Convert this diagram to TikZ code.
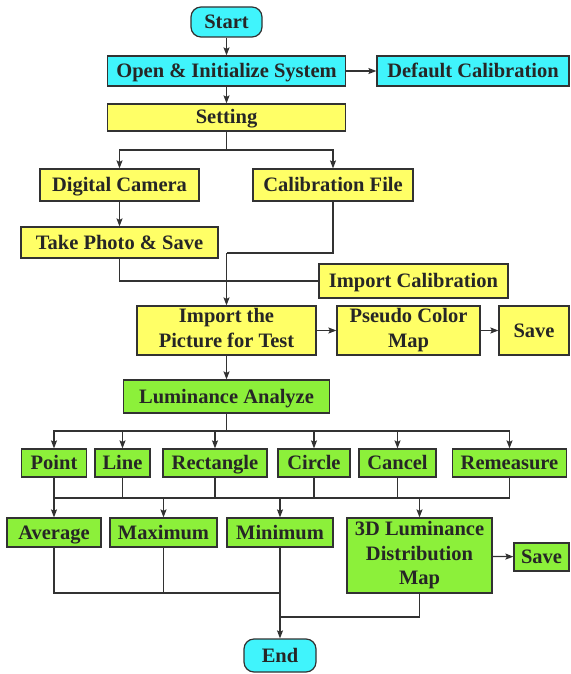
\documentclass[tikz,border=0pt]{standalone}
\usepackage{fontspec}
\setmainfont{Liberation Serif}
\usetikzlibrary{arrows.meta}
\definecolor{cyanfill}{RGB}{64,244,252}
\definecolor{yelfill}{RGB}{255,255,102}
\definecolor{grnfill}{RGB}{140,240,58}
\definecolor{edgecol}{RGB}{50,50,50}
\definecolor{txtcol}{RGB}{38,38,38}
\newcommand\sr{\rule[-5pt]{0pt}{23pt}}
\begin{document}
\begin{tikzpicture}[x=1pt,y=-1pt,
  box/.style={draw=edgecol, line width=1.2pt, text=txtcol, inner sep=0pt, align=center,
    font=\fontsize{20.5}{24.5}\selectfont\bfseries, execute at begin node=\sr},
  cbox/.style={box, fill=cyanfill},
  ybox/.style={box, fill=yelfill},
  gbox/.style={box, fill=grnfill},
  term/.style={cbox, rounded corners=10pt},
  conn/.style={draw=edgecol, line width=1.2pt},
  arr/.style={conn, -{Stealth[length=8pt,width=6pt,inset=1.5pt]}},
]
\useasboundingbox (0,0) rectangle (570,674);
\fill[white] (0,0) rectangle (570,674);

% top part
\node[term, minimum width=71pt, minimum height=30pt] (start) at (226.5,22) {Start};
\node[cbox, minimum width=238pt, minimum height=30pt] (open) at (226.5,71) {Open \& Initialize System};
\node[cbox, minimum width=192pt, minimum height=30pt] (defcal) at (473,71) {Default Calibration};
\node[ybox, minimum width=238pt, minimum height=27pt] (setting) at (226.5,117.5) {Setting};
\node[ybox, minimum width=159pt, minimum height=32pt] (digcam) at (119.5,185) {Digital Camera};
\node[ybox, minimum width=160pt, minimum height=32pt] (calfile) at (333,185) {Calibration File};
\node[ybox, minimum width=197pt, minimum height=31pt] (photo) at (119.5,242.5) {Take Photo \& Save};
\node[ybox, minimum width=189pt, minimum height=34pt] (impcal) at (413.5,281) {Import Calibration};
\node[ybox, minimum width=179pt, minimum height=49pt] (imppic) at (226.5,330.5) {Import the\\\sr Picture for Test};
\node[ybox, minimum width=143pt, minimum height=49pt] (pseudo) at (408.5,330.5) {Pseudo Color\\\sr Map};
\node[ybox, minimum width=70pt, minimum height=49pt] (saveA) at (534,330.5) {Save};
\node[gbox, minimum width=206pt, minimum height=33pt] (lum) at (226.5,396.5) {Luminance Analyze};

% row 1
\node[gbox, minimum width=65pt, minimum height=28pt] (point) at (54,463) {Point};
\node[gbox, minimum width=55pt, minimum height=28pt] (line) at (122.5,463) {Line};
\node[gbox, minimum width=104pt, minimum height=28pt] (rect) at (215,463) {Rectangle};
\node[gbox, minimum width=72pt, minimum height=28pt] (circ) at (314,463) {Circle};
\node[gbox, minimum width=77pt, minimum height=28pt] (cancel) at (397.5,463) {Cancel};
\node[gbox, minimum width=114pt, minimum height=28pt] (remeas) at (509.5,463) {Remeasure};

% row 2
\node[gbox, minimum width=94pt, minimum height=29pt] (avg) at (54,532.5) {Average};
\node[gbox, minimum width=107pt, minimum height=29pt] (maxi) at (163.5,532.5) {Maximum};
\node[gbox, minimum width=106pt, minimum height=29pt] (mini) at (280,532.5) {Minimum};
\node[gbox, minimum width=145pt, minimum height=75pt] (dmap) at (419.5,555.5) {3D Luminance\\\sr Distribution\\\sr Map};
\node[gbox, minimum width=55pt, minimum height=28pt] (saveB) at (541.5,557) {Save};
\node[term, minimum width=72pt, minimum height=33pt] (finish) at (280,655.5) {End};

% coordinates
\coordinate (sp1) at (226.5,150);
\coordinate (j1) at (226.5,253);
\coordinate (sp2) at (226.5,431);
\coordinate (bus) at (0,498);
\coordinate (bus2) at (0,593);
\coordinate (bus3) at (0,617);

% connectors
\draw[arr] (start) -- (open);
\draw[arr] (open) -- (defcal);
\draw[arr] (open) -- (setting);
\draw[conn] (setting.south) -- (sp1);
\draw[arr] (sp1) -| (digcam.north);
\draw[arr] (sp1) -| (calfile.north);
\draw[arr] (digcam) -- (photo);
\draw[conn] (calfile.south) |- (j1);
\draw[conn] (photo.south) |- (impcal.west);
\draw[arr] (j1) -- (imppic.north);
\draw[arr] (imppic) -- (pseudo);
\draw[arr] (pseudo) -- (saveA);
\draw[arr] (imppic) -- (lum);
\draw[conn] (lum.south) -- (sp2);
\foreach \n in {point,line,rect,circ,cancel,remeas}{
  \draw[arr] (sp2) -| (\n.north);
}
\draw[conn] (point.south) -- (point.south |- bus) -- (remeas.south |- bus) -- (remeas.south);
\foreach \n in {line,rect,circ,cancel}{
  \draw[conn] (\n.south) -- (\n.south |- bus);
}
\foreach \n in {avg,maxi,mini,dmap}{
  \draw[arr] (\n.north |- bus) -- (\n.north);
}
\draw[arr] (dmap) -- (saveB);
\draw[conn] (avg.south) -- (avg.south |- bus2) -- (mini.south |- bus2);
\draw[conn] (maxi.south) -- (maxi.south |- bus2);
\draw[conn] (dmap.south) -- (dmap.south |- bus3) -- (mini.south |- bus3);
\draw[arr] (mini) -- (finish);
\end{tikzpicture}
\end{document}
